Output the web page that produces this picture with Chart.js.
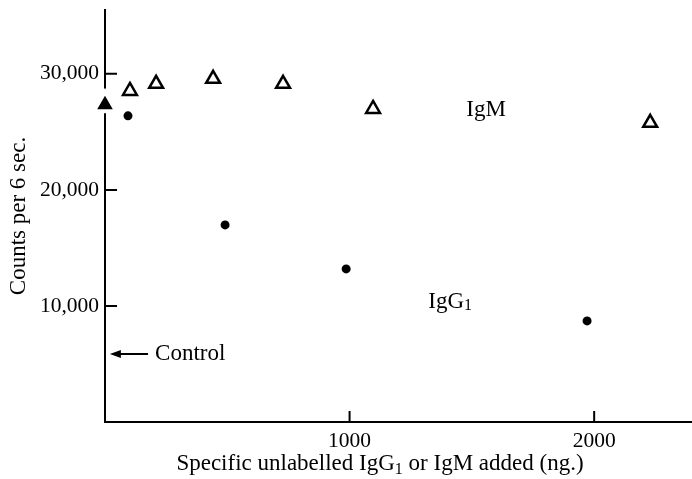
<!DOCTYPE html>
<html>
<head>
<meta charset="utf-8">
<script src="https://cdn.jsdelivr.net/npm/chart.js@4/dist/chart.umd.min.js"></script>
<style>
  html, body { margin: 0; padding: 0; background: #fff; }
  #wrap { width: 692px; height: 479px; position: relative; }
</style>
</head>
<body>
<div id="wrap"><canvas id="chart"></canvas></div>
<script>
// values (ng added, counts per 6 sec)
const igmDose = [102, 209, 442, 728, 1096, 2229];
const igmCounts = [28530, 29140, 29570, 29140, 26980, 25780];

const iggDose = [94, 491, 986, 1971];
const iggCounts = [26380, 16980, 13190, 8710];

const controlDose = [0];
const controlCounts = [27330];

const xTicks = [1000, 2000];
const yTicks = [10000, 20000, 30000];

// where the labels sit, in data units
const igmLabelAt = [1558, 26900];
const iggLabelAt = [1411, 10340];
const controlArrow = [20, 176, 5860]; // x from, x to, y

const FONT = "Liberation Serif";
const TICK_SIZE = 21.5;
const SIZE = 23;

function toPoints(xs, ys) {
  return xs.map((x, i) => ({ x: x, y: ys[i] }));
}

// text with subscript pieces: [["IgG"], ["1", true]]
function drawRich(ctx, parts, x, y, align) {
  const big = SIZE + "px '" + FONT + "'";
  const small = Math.round(SIZE * 0.68) + "px '" + FONT + "'";
  let total = 0;
  parts.forEach((p) => {
    ctx.font = p[1] ? small : big;
    total += ctx.measureText(p[0]).width;
  });
  let cx = align === "center" ? x - total / 2 : x;
  ctx.textAlign = "left";
  parts.forEach((p) => {
    ctx.font = p[1] ? small : big;
    ctx.fillText(p[0], cx, p[1] ? y + 4 : y);
    cx += ctx.measureText(p[0]).width;
  });
}

const extras = {
  id: "extras",
  beforeDatasetsDraw(chart) {
    const ctx = chart.ctx;
    const xs = chart.scales.x;
    const ys = chart.scales.y;
    const area = chart.chartArea;
    ctx.save();
    ctx.strokeStyle = "#000";
    ctx.fillStyle = "#000";
    ctx.lineWidth = 2;

    // tick marks point into the plot
    ctx.beginPath();
    yTicks.forEach((v) => {
      const py = ys.getPixelForValue(v);
      ctx.moveTo(area.left, py);
      ctx.lineTo(area.left + 12, py);
    });
    xTicks.forEach((v) => {
      const px = xs.getPixelForValue(v);
      ctx.moveTo(px, area.bottom);
      ctx.lineTo(px, area.bottom - 11);
    });
    ctx.stroke();

    // control arrow
    const ay = ys.getPixelForValue(controlArrow[2]);
    const ax0 = xs.getPixelForValue(controlArrow[0]);
    const ax1 = xs.getPixelForValue(controlArrow[1]);
    ctx.beginPath();
    ctx.moveTo(ax0 + 8, ay);
    ctx.lineTo(ax1, ay);
    ctx.stroke();
    ctx.beginPath();
    ctx.moveTo(ax0, ay);
    ctx.lineTo(ax0 + 11, ay - 4);
    ctx.lineTo(ax0 + 11, ay + 4);
    ctx.closePath();
    ctx.fill();

    ctx.textBaseline = "middle";
    drawRich(ctx, [["Control"]], ax1 + 7, ay, "left");
    drawRich(ctx, [["IgM"]], xs.getPixelForValue(igmLabelAt[0]), ys.getPixelForValue(igmLabelAt[1]), "center");
    drawRich(ctx, [["IgG"], ["1", true]], xs.getPixelForValue(iggLabelAt[0]), ys.getPixelForValue(iggLabelAt[1]), "center");

    // x axis title
    ctx.textBaseline = "alphabetic";
    drawRich(ctx, [["Specific unlabelled IgG"], ["1", true], [" or IgM added (ng.)"]],
      area.left + 275, chart.height - 9, "center");
    ctx.restore();
  },
};

new Chart(document.getElementById("chart"), {
  type: "scatter",
  data: {
    datasets: [
      {
        label: "IgM",
        data: toPoints(igmDose, igmCounts),
        pointStyle: "triangle",
        pointRadius: 8,
        backgroundColor: "#fff",
        borderColor: "#000",
        borderWidth: 2.5,
      },
      {
        label: "IgG1",
        data: toPoints(iggDose, iggCounts),
        pointStyle: "circle",
        pointRadius: 4.5,
        backgroundColor: "#000",
        borderColor: "#000",
        borderWidth: 0,
      },
      {
        label: "Control",
        data: toPoints(controlDose, controlCounts),
        pointStyle: "triangle",
        pointRadius: 13,
        backgroundColor: "#000",
        borderColor: "#fff",
        borderWidth: 4,
        clip: false,
      },
    ],
  },
  options: {
    responsive: true,
    maintainAspectRatio: false,
    animation: false,
    layout: { autoPadding: false, padding: { top: 10, right: 0, left: 0, bottom: 0 } },
    plugins: {
      legend: { display: false },
      tooltip: { enabled: false },
    },
    scales: {
      x: {
        type: "linear",
        min: 0,
        max: 2400,
        afterBuildTicks: (scale) => {
          scale.ticks = xTicks.map((v) => ({ value: v }));
        },
        afterFit: (scale) => {
          scale.height = 57;
          scale.paddingLeft = 0;
          scale.paddingRight = 0;
        },
        grid: { drawOnChartArea: false, drawTicks: false },
        border: { display: true, color: "#000", width: 2 },
        ticks: {
          color: "#000",
          padding: 6,
          font: { family: FONT, size: TICK_SIZE },
          callback: (v) => String(v),
        },
        title: { display: false },
      },
      y: {
        type: "linear",
        min: 0,
        max: 35500,
        afterBuildTicks: (scale) => {
          scale.ticks = yTicks.map((v) => ({ value: v }));
        },
        afterFit: (scale) => {
          scale.width = 105;
          scale.paddingTop = 0;
          scale.paddingBottom = 0;
        },
        grid: { drawOnChartArea: false, drawTicks: false },
        border: { display: true, color: "#000", width: 2 },
        ticks: {
          color: "#000",
          padding: 6,
          font: { family: FONT, size: TICK_SIZE },
          callback: (v) => v.toLocaleString("en-US"),
        },
        title: {
          display: true,
          text: "Counts per 6 sec.",
          color: "#000",
          padding: { top: 5, bottom: 0 },
          font: { family: FONT, size: SIZE },
        },
      },
    },
  },
  plugins: [extras],
});
</script>
</body>
</html>
